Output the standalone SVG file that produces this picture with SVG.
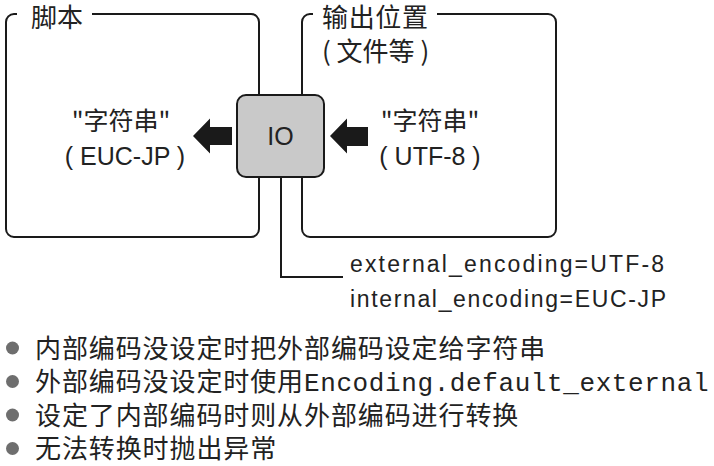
<svg xmlns="http://www.w3.org/2000/svg" width="714" height="466" viewBox="0 0 714 466">
<style>
.box{fill:none;stroke:#1a1a1a;stroke-width:2}
.cjk{font-family:"Noto Sans CJK SC","Liberation Sans",sans-serif;fill:#222}
.lat{font-family:"Liberation Sans","Noto Sans CJK SC",sans-serif;fill:#222}
.mono{font-family:"Liberation Mono",monospace;fill:#222}
.line{fill:none;stroke:#1a1a1a;stroke-width:2}
.arrow{fill:#1a1a1a}
.dot{fill:#6e6e6e}
.note{font-size:26px;letter-spacing:0.9px}
</style>
<rect width="714" height="466" fill="#fff"/>
<g id="script-box">
<path class="box" d="M17 14 H14 A8 8 0 0 0 6 22 V229 A8 8 0 0 0 14 237 H251 A8 8 0 0 0 259 229 V22 A8 8 0 0 0 251 14 H92"/>
<text class="cjk" x="31" y="27" font-size="26">脚本</text>
<text class="cjk" x="121" y="130" font-size="25" text-anchor="middle">"字符串"</text>
<text class="lat" x="125" y="165" font-size="25" text-anchor="middle">( EUC-JP )</text>
</g>
<g id="output-box">
<path class="box" d="M313 14 H310 A8 8 0 0 0 302 22 V229 A8 8 0 0 0 310 237 H548 A8 8 0 0 0 556 229 V22 A8 8 0 0 0 548 14 H437"/>
<text class="cjk" x="322" y="27" font-size="26" textLength="106">输出位置</text>
<text class="cjk" x="322" y="61" font-size="26">( 文件等 )</text>
<text class="cjk" x="430" y="130" font-size="25" text-anchor="middle">"字符串"</text>
<text class="lat" x="430" y="165" font-size="25" text-anchor="middle">( UTF-8 )</text>
</g>
<g id="connectors">
<polygon class="arrow" points="193,136 210,118.5 210,127 232,127 232,145 210,145 210,153.5"/>
<polygon class="arrow" points="330,136 347,118.5 347,127 368,127 368,146 347,146 347,153.5"/>
<path class="line" d="M281 177 V277 H343"/>
</g>
<g id="io-node">
<rect x="237" y="95" width="87" height="82" rx="9" ry="9" fill="#c9c9c9" stroke="#1a1a1a" stroke-width="2"/>
<text class="lat" x="280.5" y="145" font-size="25" text-anchor="middle">IO</text>
</g>
<g id="encoding-label">
<text class="lat" x="350" y="272" font-size="23" textLength="314" lengthAdjust="spacing">external_encoding=UTF-8</text>
<text class="lat" x="350" y="307" font-size="23" textLength="316" lengthAdjust="spacing">internal_encoding=EUC-JP</text>
</g>
<g id="notes">
<circle class="dot" cx="12.5" cy="348" r="6.5"/>
<circle class="dot" cx="12.5" cy="381.5" r="6.5"/>
<circle class="dot" cx="12.5" cy="415" r="6.5"/>
<circle class="dot" cx="12.5" cy="448.5" r="6.5"/>
<text class="cjk note" x="35" y="358">内部编码没设定时把外部编码设定给字符串</text>
<text class="cjk note" x="35" y="391">外部编码没设定时使用<tspan class="mono" style="font-size:26px;letter-spacing:0.6px">Encoding.default_external</tspan></text>
<text class="cjk note" x="35" y="425">设定了内部编码时则从外部编码进行转换</text>
<text class="cjk note" x="35" y="458">无法转换时抛出异常</text>
</g>
</svg>
